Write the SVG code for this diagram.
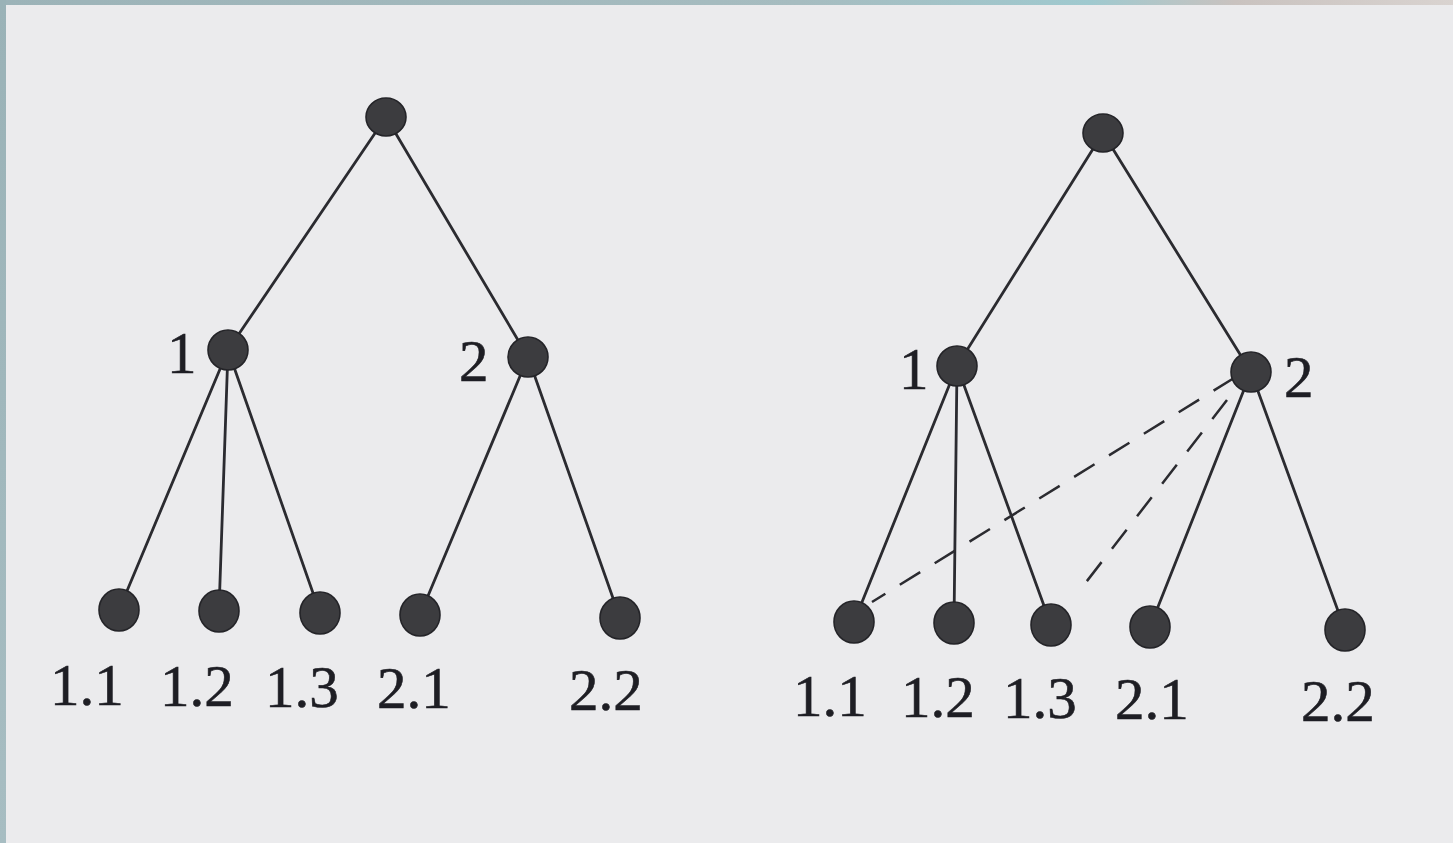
<svg xmlns="http://www.w3.org/2000/svg" width="1453" height="843" viewBox="0 0 1453 843">
  <defs>
    <linearGradient id="edgeTop" x1="0" y1="0" x2="1" y2="0">
      <stop offset="0" stop-color="#9cb3b8"/>
      <stop offset="0.55" stop-color="#a6bcc0"/>
      <stop offset="0.75" stop-color="#9fc9cf"/>
      <stop offset="0.85" stop-color="#c9c2bf"/>
      <stop offset="1" stop-color="#d9d3d0"/>
    </linearGradient>
    <linearGradient id="edgeLeft" x1="0" y1="0" x2="0" y2="1">
      <stop offset="0" stop-color="#9ab2b7"/>
      <stop offset="1" stop-color="#a7bdc2"/>
    </linearGradient>
  </defs>
  <style>
    .edge { stroke: #2b2b30; stroke-width: 2.8; fill: none; stroke-linecap: round; }
    .dash { stroke: #2b2b30; stroke-width: 2.5; fill: none; stroke-dasharray: 24 17; }
    .node { fill: #3c3c3f; stroke: #242428; stroke-width: 1.6; }
    .lbl { font-family: "Liberation Serif", "DejaVu Serif", serif; font-size: 59px; fill: #1e1e24; stroke: #1e1e24; stroke-width: 0.6; }
  </style>

  <!-- page -->
  <rect x="0" y="0" width="1453" height="843" fill="#ebebed"/>
  <rect x="0" y="0" width="1453" height="5" fill="url(#edgeTop)"/>
  <rect x="0" y="0" width="6" height="843" fill="url(#edgeLeft)"/>

  <!-- connectors -->
  <g id="connectors">
    <!-- left tree -->
    <line class="edge" x1="386" y1="117" x2="228" y2="350"/>
    <line class="edge" x1="386" y1="117" x2="528" y2="357"/>
    <line class="edge" x1="228" y1="350" x2="119" y2="610"/>
    <line class="edge" x1="228" y1="350" x2="219" y2="611"/>
    <line class="edge" x1="228" y1="350" x2="320" y2="613"/>
    <line class="edge" x1="528" y1="357" x2="420" y2="615"/>
    <line class="edge" x1="528" y1="357" x2="620" y2="618"/>
    <!-- right tree -->
    <line class="edge" x1="1103" y1="133" x2="957" y2="366"/>
    <line class="edge" x1="1103" y1="133" x2="1251" y2="372"/>
    <line class="edge" x1="957" y1="366" x2="854" y2="622"/>
    <line class="edge" x1="957" y1="366" x2="954" y2="623"/>
    <line class="edge" x1="957" y1="366" x2="1051" y2="625"/>
    <line class="edge" x1="1251" y1="372" x2="1150" y2="627"/>
    <line class="edge" x1="1251" y1="372" x2="1345" y2="630"/>
    <!-- dashed cross links -->
    <line class="dash" x1="1234" y1="378" x2="872" y2="602"/>
    <line class="dash" x1="1227" y1="400" x2="1080" y2="590"/>
  </g>

  <!-- left tree nodes -->
  <g id="L-root"><ellipse class="node" cx="386" cy="117" rx="20" ry="19"/></g>
  <g id="L-1"><ellipse class="node" cx="228" cy="350" rx="20" ry="20"/><text class="lbl" x="167" y="373">1</text></g>
  <g id="L-2"><ellipse class="node" cx="528" cy="357" rx="20" ry="20"/><text class="lbl" x="459" y="381">2</text></g>
  <g id="L-1-1"><ellipse class="node" cx="119" cy="610" rx="20" ry="21"/><text class="lbl" x="50" y="705">1.1</text></g>
  <g id="L-1-2"><ellipse class="node" cx="219" cy="611" rx="20" ry="21"/><text class="lbl" x="160" y="706">1.2</text></g>
  <g id="L-1-3"><ellipse class="node" cx="320" cy="613" rx="20" ry="21"/><text class="lbl" x="265" y="707">1.3</text></g>
  <g id="L-2-1"><ellipse class="node" cx="420" cy="615" rx="20" ry="21"/><text class="lbl" x="377" y="708">2.1</text></g>
  <g id="L-2-2"><ellipse class="node" cx="620" cy="618" rx="20" ry="21"/><text class="lbl" x="569" y="710">2.2</text></g>

  <!-- right tree nodes -->
  <g id="R-root"><ellipse class="node" cx="1103" cy="133" rx="20" ry="19"/></g>
  <g id="R-1"><ellipse class="node" cx="957" cy="366" rx="20" ry="20"/><text class="lbl" x="899" y="389">1</text></g>
  <g id="R-2"><ellipse class="node" cx="1251" cy="372" rx="20" ry="20"/><text class="lbl" x="1284" y="397">2</text></g>
  <g id="R-1-1"><ellipse class="node" cx="854" cy="622" rx="20" ry="21"/><text class="lbl" x="793" y="716">1.1</text></g>
  <g id="R-1-2"><ellipse class="node" cx="954" cy="623" rx="20" ry="21"/><text class="lbl" x="901" y="717">1.2</text></g>
  <g id="R-1-3"><ellipse class="node" cx="1051" cy="625" rx="20" ry="21"/><text class="lbl" x="1003" y="718">1.3</text></g>
  <g id="R-2-1"><ellipse class="node" cx="1150" cy="627" rx="20" ry="21"/><text class="lbl" x="1115" y="719">2.1</text></g>
  <g id="R-2-2"><ellipse class="node" cx="1345" cy="630" rx="20" ry="21"/><text class="lbl" x="1301" y="721">2.2</text></g>
</svg>
